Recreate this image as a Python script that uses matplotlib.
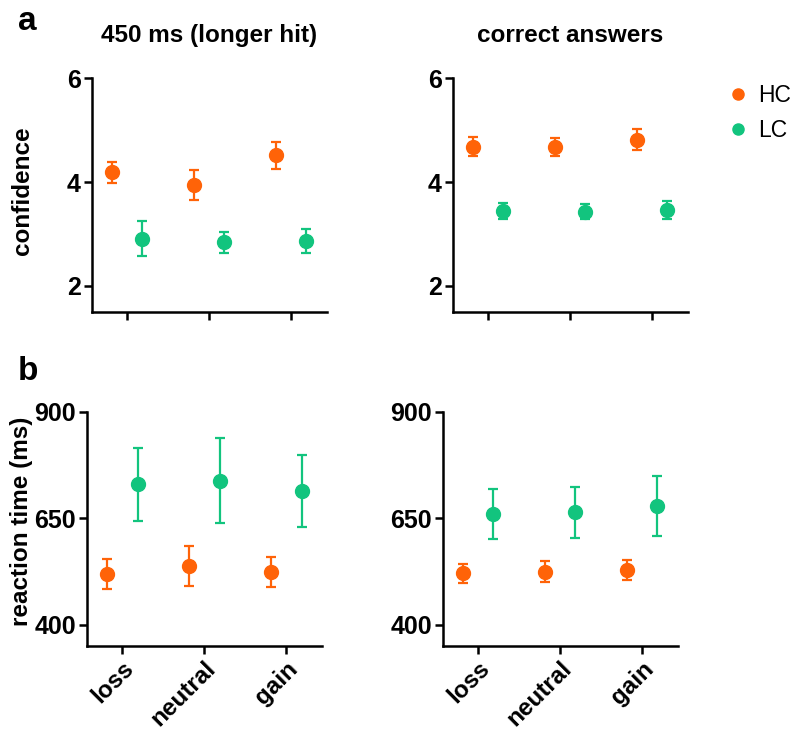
import numpy as np
import matplotlib
matplotlib.use("Agg")
import matplotlib.pyplot as plt
from matplotlib.lines import Line2D

plt.rcParams['font.family'] = ['Liberation Sans', 'DejaVu Sans']

# categories and groups
conditions = ['loss', 'neutral', 'gain']
groups = ['HC', 'LC']
colors = {'HC': '#FF6308', 'LC': '#12C47E'}

# confidence, 450 ms (longer hit)
conf_long_hc = [4.19, 3.94, 4.52]
conf_long_hc_err = [0.20, 0.29, 0.26]
conf_long_lc = [2.91, 2.84, 2.86]
conf_long_lc_err = [0.34, 0.20, 0.23]

# confidence, correct answers
conf_corr_hc = [4.68, 4.68, 4.82]
conf_corr_hc_err = [0.18, 0.17, 0.21]
conf_corr_lc = [3.44, 3.43, 3.46]
conf_corr_lc_err = [0.16, 0.15, 0.17]

# reaction time, 450 ms (longer hit)
rt_long_hc = [519, 537, 524]
rt_long_hc_err = [35, 47, 35]
rt_long_lc = [729, 738, 714]
rt_long_lc_err = [85, 100, 84]

# reaction time, correct answers
rt_corr_hc = [520, 524, 528]
rt_corr_hc_err = [23, 25, 24]
rt_corr_lc = [660, 664, 679]
rt_corr_lc_err = [59, 60, 70]

x = np.arange(len(conditions))
offset = 0.185

fig = plt.figure(figsize=(8, 7.39), dpi=100)
ax_tl = fig.add_axes([0.115, 0.578, 0.294, 0.316])
ax_tr = fig.add_axes([0.566, 0.578, 0.294, 0.316])
ax_bl = fig.add_axes([0.109, 0.126, 0.294, 0.317])
ax_br = fig.add_axes([0.554, 0.126, 0.293, 0.317])


def draw(ax, hc, hc_err, lc, lc_err):
    ax.errorbar(x - offset, hc, yerr=hc_err, fmt='o', color=colors['HC'],
                markersize=10, elinewidth=1.6, capsize=3.8, capthick=1.6)
    ax.errorbar(x + offset, lc, yerr=lc_err, fmt='o', color=colors['LC'],
                markersize=10, elinewidth=1.6, capsize=3.8, capthick=1.6)
    ax.set_xlim(-0.43, 2.44)
    ax.set_xticks(x)
    for side in ['top', 'right']:
        ax.spines[side].set_visible(False)
    for side in ['left', 'bottom']:
        ax.spines[side].set_linewidth(1.8)
    ax.tick_params(width=1.8, length=6, pad=2)


draw(ax_tl, conf_long_hc, conf_long_hc_err, conf_long_lc, conf_long_lc_err)
draw(ax_tr, conf_corr_hc, conf_corr_hc_err, conf_corr_lc, conf_corr_lc_err)
draw(ax_bl, rt_long_hc, rt_long_hc_err, rt_long_lc, rt_long_lc_err)
draw(ax_br, rt_corr_hc, rt_corr_hc_err, rt_corr_lc, rt_corr_lc_err)

for ax in [ax_tl, ax_tr]:
    ax.set_ylim(1.5, 6)
    ax.set_yticks([2, 4, 6])
    ax.set_yticklabels(['2', '4', '6'], fontweight='bold', fontsize=18)
    ax.set_xticklabels([])

for ax in [ax_bl, ax_br]:
    ax.set_ylim(350, 900)
    ax.set_yticks([400, 650, 900])
    ax.set_yticklabels(['400', '650', '900'], fontweight='bold', fontsize=18)
    ax.set_xticklabels(conditions, rotation=45, ha='right', va='top',
                       rotation_mode='anchor', fontweight='bold', fontsize=17.5)

# titles
fig.text(0.261, 0.943, '450 ms (longer hit)', fontsize=17.5, fontweight='bold',
         ha='center', va='baseline')
fig.text(0.713, 0.943, 'correct answers', fontsize=17.5, fontweight='bold',
         ha='center', va='baseline')

# axis labels
ax_tl.set_ylabel('confidence', fontsize=17.5, fontweight='bold')
ax_tl.yaxis.set_label_coords(-0.245, 0.52)
ax_bl.set_ylabel('reaction time (ms)', fontsize=17.5, fontweight='bold')
ax_bl.yaxis.set_label_coords(-0.23, 0.53)

# panel letters
fig.text(0.022, 0.959, 'a', fontsize=24, fontweight='bold', va='baseline')
fig.text(0.022, 0.486, 'b', fontsize=24, fontweight='bold', va='baseline')

# legend
handles = [Line2D([], [], linestyle='none', marker='o', markersize=8,
                  color=colors[g]) for g in groups]
fig.legend(handles, groups, loc='upper left', bbox_to_anchor=(0.908, 0.886),
           bbox_transform=fig.transFigure, frameon=False, fontsize=16.5,
           borderpad=0, borderaxespad=0, handlelength=1.0,
           handletextpad=0.37, labelspacing=0.5)

fig.savefig('out.png', dpi=100)
